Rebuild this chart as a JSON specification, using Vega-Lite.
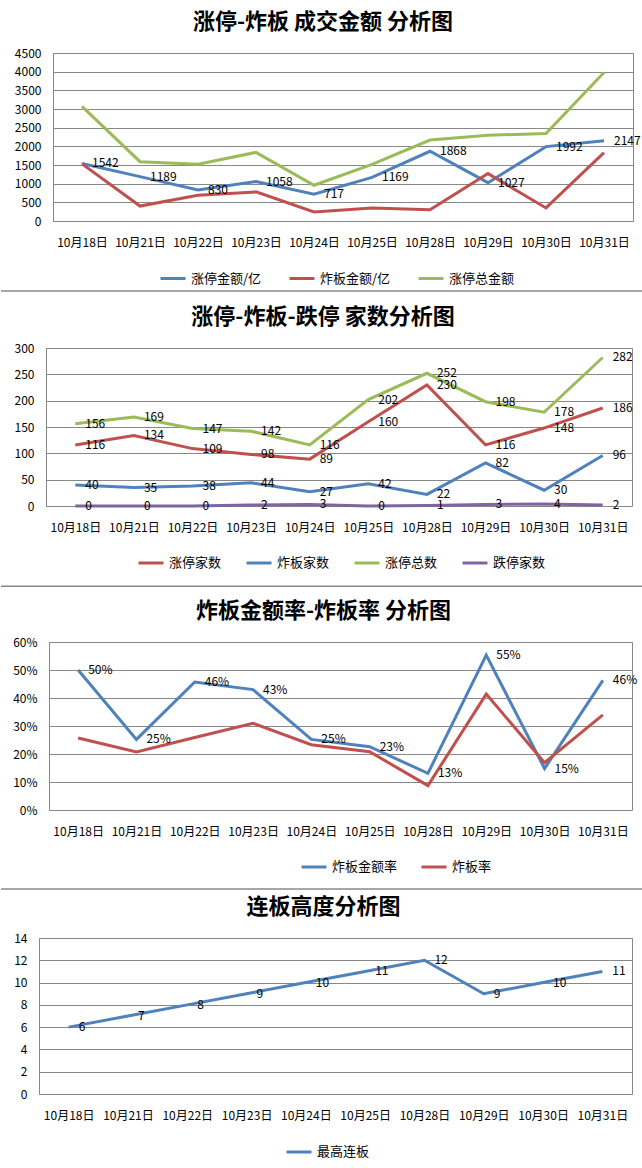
{
  "$schema": "https://vega.github.io/schema/vega-lite/v6.json",
  "background": "white",
  "padding": {"top": 10, "left": 0, "right": 0, "bottom": 0},
  "columns": 1,
  "bounds": "full",
  "spacing": 0,
  "resolve": {"scale": {"color": "independent"}, "legend": {"color": "independent"}},
  "datasets": {
    "p1": [
      {"date": "10月18日", "series": "涨停金额/亿", "value": 1542},
      {"date": "10月21日", "series": "涨停金额/亿", "value": 1189},
      {"date": "10月22日", "series": "涨停金额/亿", "value": 830},
      {"date": "10月23日", "series": "涨停金额/亿", "value": 1058},
      {"date": "10月24日", "series": "涨停金额/亿", "value": 717},
      {"date": "10月25日", "series": "涨停金额/亿", "value": 1169},
      {"date": "10月28日", "series": "涨停金额/亿", "value": 1868},
      {"date": "10月29日", "series": "涨停金额/亿", "value": 1027},
      {"date": "10月30日", "series": "涨停金额/亿", "value": 1992},
      {"date": "10月31日", "series": "涨停金额/亿", "value": 2147},
      {"date": "10月18日", "series": "炸板金额/亿", "value": 1530},
      {"date": "10月21日", "series": "炸板金额/亿", "value": 400},
      {"date": "10月22日", "series": "炸板金额/亿", "value": 690},
      {"date": "10月23日", "series": "炸板金额/亿", "value": 780},
      {"date": "10月24日", "series": "炸板金额/亿", "value": 240},
      {"date": "10月25日", "series": "炸板金额/亿", "value": 350},
      {"date": "10月28日", "series": "炸板金额/亿", "value": 300},
      {"date": "10月29日", "series": "炸板金额/亿", "value": 1270},
      {"date": "10月30日", "series": "炸板金额/亿", "value": 350},
      {"date": "10月31日", "series": "炸板金额/亿", "value": 1830},
      {"date": "10月18日", "series": "涨停总金额", "value": 3072},
      {"date": "10月21日", "series": "涨停总金额", "value": 1589},
      {"date": "10月22日", "series": "涨停总金额", "value": 1520},
      {"date": "10月23日", "series": "涨停总金额", "value": 1838},
      {"date": "10月24日", "series": "涨停总金额", "value": 957},
      {"date": "10月25日", "series": "涨停总金额", "value": 1519},
      {"date": "10月28日", "series": "涨停总金额", "value": 2168},
      {"date": "10月29日", "series": "涨停总金额", "value": 2297},
      {"date": "10月30日", "series": "涨停总金额", "value": 2342},
      {"date": "10月31日", "series": "涨停总金额", "value": 3977}
    ],
    "p2": [
      {"date": "10月18日", "series": "涨停家数", "value": 116},
      {"date": "10月21日", "series": "涨停家数", "value": 134},
      {"date": "10月22日", "series": "涨停家数", "value": 109},
      {"date": "10月23日", "series": "涨停家数", "value": 98},
      {"date": "10月24日", "series": "涨停家数", "value": 89},
      {"date": "10月25日", "series": "涨停家数", "value": 160},
      {"date": "10月28日", "series": "涨停家数", "value": 230},
      {"date": "10月29日", "series": "涨停家数", "value": 116},
      {"date": "10月30日", "series": "涨停家数", "value": 148},
      {"date": "10月31日", "series": "涨停家数", "value": 186},
      {"date": "10月18日", "series": "炸板家数", "value": 40},
      {"date": "10月21日", "series": "炸板家数", "value": 35},
      {"date": "10月22日", "series": "炸板家数", "value": 38},
      {"date": "10月23日", "series": "炸板家数", "value": 44},
      {"date": "10月24日", "series": "炸板家数", "value": 27},
      {"date": "10月25日", "series": "炸板家数", "value": 42},
      {"date": "10月28日", "series": "炸板家数", "value": 22},
      {"date": "10月29日", "series": "炸板家数", "value": 82},
      {"date": "10月30日", "series": "炸板家数", "value": 30},
      {"date": "10月31日", "series": "炸板家数", "value": 96},
      {"date": "10月18日", "series": "涨停总数", "value": 156},
      {"date": "10月21日", "series": "涨停总数", "value": 169},
      {"date": "10月22日", "series": "涨停总数", "value": 147},
      {"date": "10月23日", "series": "涨停总数", "value": 142},
      {"date": "10月24日", "series": "涨停总数", "value": 116},
      {"date": "10月25日", "series": "涨停总数", "value": 202},
      {"date": "10月28日", "series": "涨停总数", "value": 252},
      {"date": "10月29日", "series": "涨停总数", "value": 198},
      {"date": "10月30日", "series": "涨停总数", "value": 178},
      {"date": "10月31日", "series": "涨停总数", "value": 282},
      {"date": "10月18日", "series": "跌停家数", "value": 0},
      {"date": "10月21日", "series": "跌停家数", "value": 0},
      {"date": "10月22日", "series": "跌停家数", "value": 0},
      {"date": "10月23日", "series": "跌停家数", "value": 2},
      {"date": "10月24日", "series": "跌停家数", "value": 3},
      {"date": "10月25日", "series": "跌停家数", "value": 0},
      {"date": "10月28日", "series": "跌停家数", "value": 1},
      {"date": "10月29日", "series": "跌停家数", "value": 3},
      {"date": "10月30日", "series": "跌停家数", "value": 4},
      {"date": "10月31日", "series": "跌停家数", "value": 2}
    ],
    "p3": [
      {"date": "10月18日", "series": "炸板金额率", "value": 0.50},
      {"date": "10月21日", "series": "炸板金额率", "value": 0.252},
      {"date": "10月22日", "series": "炸板金额率", "value": 0.457},
      {"date": "10月23日", "series": "炸板金额率", "value": 0.43},
      {"date": "10月24日", "series": "炸板金额率", "value": 0.252},
      {"date": "10月25日", "series": "炸板金额率", "value": 0.226},
      {"date": "10月28日", "series": "炸板金额率", "value": 0.131},
      {"date": "10月29日", "series": "炸板金额率", "value": 0.553},
      {"date": "10月30日", "series": "炸板金额率", "value": 0.148},
      {"date": "10月31日", "series": "炸板金额率", "value": 0.463},
      {"date": "10月18日", "series": "炸板率", "value": 0.257},
      {"date": "10月21日", "series": "炸板率", "value": 0.207},
      {"date": "10月22日", "series": "炸板率", "value": 0.259},
      {"date": "10月23日", "series": "炸板率", "value": 0.31},
      {"date": "10月24日", "series": "炸板率", "value": 0.233},
      {"date": "10月25日", "series": "炸板率", "value": 0.208},
      {"date": "10月28日", "series": "炸板率", "value": 0.087},
      {"date": "10月29日", "series": "炸板率", "value": 0.414},
      {"date": "10月30日", "series": "炸板率", "value": 0.169},
      {"date": "10月31日", "series": "炸板率", "value": 0.34}
    ],
    "p4": [
      {"date": "10月18日", "series": "最高连板", "value": 6},
      {"date": "10月21日", "series": "最高连板", "value": 7},
      {"date": "10月22日", "series": "最高连板", "value": 8},
      {"date": "10月23日", "series": "最高连板", "value": 9},
      {"date": "10月24日", "series": "最高连板", "value": 10},
      {"date": "10月25日", "series": "最高连板", "value": 11},
      {"date": "10月28日", "series": "最高连板", "value": 12},
      {"date": "10月29日", "series": "最高连板", "value": 9},
      {"date": "10月30日", "series": "最高连板", "value": 10},
      {"date": "10月31日", "series": "最高连板", "value": 11}
    ]
  },
  "concat": [
    {
      "hconcat": [
        {"width": 11, "height": 1, "data": {"values": [{}]}, "view": {"stroke": null}, "mark": {"type": "point", "opacity": 0}},
        {
          "width": 580, "height": 168,
          "title": {"text": "涨停-炸板 成交金额 分析图", "dx": -20},
          "data": {"name": "p1"},
          "encoding": {
            "x": {"field": "date", "type": "ordinal", "sort": ["10月18日","10月21日","10月22日","10月23日","10月24日","10月25日","10月28日","10月29日","10月30日","10月31日"], "scale": {"type": "band", "paddingInner": 0, "paddingOuter": 0}, "axis": {"title": null, "labelAngle": 0, "tickBand": "extent", "ticks": false, "domain": false, "labelPadding": 16}},
            "y": {"field": "value", "type": "quantitative", "scale": {"domain": [0, 4500], "nice": false}, "axis": {"title": null, "values": [0,500,1000,1500,2000,2500,3000,3500,4000,4500], "format": "d", "minExtent": 40, "maxExtent": 40, "ticks": false, "domain": false, "labelPadding": 12}}
          },
          "layer": [
            {"mark": {"type": "line", "strokeWidth": 3},
             "encoding": {"color": {"field": "series", "type": "nominal", "sort": ["涨停金额/亿","炸板金额/亿","涨停总金额"], "scale": {"domain": ["涨停金额/亿","炸板金额/亿","涨停总金额"], "range": ["#4F81BD","#C0504D","#9BBB59"]}, "legend": {"orient": "none", "legendX": 106, "legendY": 211.5, "direction": "horizontal", "title": null, "columnPadding": 21}}}},
            {"transform": [{"filter": "datum.series === '涨停金额/亿'"}],
             "mark": {"type": "text", "align": "left", "dx": 10, "baseline": "middle", "fontSize": 12, "color": "#000"},
             "encoding": {"text": {"field": "value", "type": "quantitative"}}}
          ]
        }
      ],
      "spacing": 0,
      "bounds": "full",
      "resolve": {"scale": {"color": "independent"}, "legend": {"color": "independent"}}
    },
    {
      "width": 642, "height": 18.9, "data": {"values": [{}]}, "view": {"stroke": null},
      "mark": {"type": "rule", "color": "#888", "strokeWidth": 1.5},
      "encoding": {"x": {"datum": 0, "type": "quantitative", "scale": {"domain": [0, 1]}, "axis": null}, "x2": {"datum": 1}, "y": {"datum": 13.8, "type": "quantitative", "scale": {"domain": [0, 18.9], "nice": false, "zero": false}, "axis": null}}
    },
    {
      "hconcat": [
        {"width": 10, "height": 1, "data": {"values": [{}]}, "view": {"stroke": null}, "mark": {"type": "point", "opacity": 0}},
        {
          "width": 586, "height": 158,
          "title": {"text": "涨停-炸板-跌停 家数分析图", "dx": -16},
          "data": {"name": "p2"},
          "encoding": {
            "x": {"field": "date", "type": "ordinal", "sort": ["10月18日","10月21日","10月22日","10月23日","10月24日","10月25日","10月28日","10月29日","10月30日","10月31日"], "scale": {"type": "band", "paddingInner": 0, "paddingOuter": 0}, "axis": {"title": null, "labelAngle": 0, "tickBand": "extent", "ticks": false, "domain": false, "labelPadding": 16}},
            "y": {"field": "value", "type": "quantitative", "scale": {"domain": [0, 300], "nice": false}, "axis": {"title": null, "values": [0,50,100,150,200,250,300], "format": "d", "minExtent": 34, "maxExtent": 34, "ticks": false, "domain": false, "labelPadding": 12}}
          },
          "layer": [
            {"mark": {"type": "line", "strokeWidth": 3},
             "encoding": {"color": {"field": "series", "type": "nominal", "sort": ["涨停家数","炸板家数","涨停总数","跌停家数"], "scale": {"domain": ["涨停家数","炸板家数","涨停总数","跌停家数"], "range": ["#C0504D","#4F81BD","#9BBB59","#8064A2"]}, "legend": {"orient": "none", "legendX": 91, "legendY": 201, "direction": "horizontal", "title": null, "columnPadding": 18}}}},
            {"mark": {"type": "text", "align": "left", "dx": 10, "baseline": "middle", "fontSize": 12, "color": "#000"},
             "encoding": {"text": {"field": "value", "type": "quantitative"}}}
          ]
        }
      ],
      "spacing": 0,
      "bounds": "full",
      "resolve": {"scale": {"color": "independent"}, "legend": {"color": "independent"}}
    },
    {
      "width": 642, "height": 27.1, "data": {"values": [{}]}, "view": {"stroke": null},
      "mark": {"type": "rule", "color": "#888", "strokeWidth": 1.5},
      "encoding": {"x": {"datum": 0, "type": "quantitative", "scale": {"domain": [0, 1]}, "axis": null}, "x2": {"datum": 1}, "y": {"datum": 11.8, "type": "quantitative", "scale": {"domain": [0, 27.1], "nice": false, "zero": false}, "axis": null}}
    },
    {
      "hconcat": [
        {"width": 10, "height": 1, "data": {"values": [{}]}, "view": {"stroke": null}, "mark": {"type": "point", "opacity": 0}},
        {
          "width": 583, "height": 168,
          "title": {"text": "炸板金额率-炸板率 分析图", "dx": -17},
          "data": {"name": "p3"},
          "encoding": {
            "x": {"field": "date", "type": "ordinal", "sort": ["10月18日","10月21日","10月22日","10月23日","10月24日","10月25日","10月28日","10月29日","10月30日","10月31日"], "scale": {"type": "band", "paddingInner": 0, "paddingOuter": 0}, "axis": {"title": null, "labelAngle": 0, "tickBand": "extent", "ticks": false, "domain": false, "labelPadding": 16}},
            "y": {"field": "value", "type": "quantitative", "scale": {"domain": [0, 0.6], "nice": false}, "axis": {"title": null, "values": [0,0.1,0.2,0.3,0.4,0.5,0.6], "format": ".0%", "minExtent": 37, "maxExtent": 37, "ticks": false, "domain": false, "labelPadding": 12}}
          },
          "layer": [
            {"mark": {"type": "line", "strokeWidth": 3},
             "encoding": {"color": {"field": "series", "type": "nominal", "sort": ["炸板金额率","炸板率"], "scale": {"domain": ["炸板金额率","炸板率"], "range": ["#4F81BD","#C0504D"]}, "legend": {"orient": "none", "legendX": 251, "legendY": 211, "direction": "horizontal", "title": null, "columnPadding": 17}}}},
            {"transform": [{"filter": "datum.series === '炸板金额率'"}],
             "mark": {"type": "text", "align": "left", "dx": 10, "baseline": "middle", "fontSize": 12, "color": "#000"},
             "encoding": {"text": {"field": "value", "type": "quantitative", "format": ".0%"}}}
          ]
        }
      ],
      "spacing": 0,
      "bounds": "full",
      "resolve": {"scale": {"color": "independent"}, "legend": {"color": "independent"}}
    },
    {
      "width": 642, "height": 19.3, "data": {"values": [{}]}, "view": {"stroke": null},
      "mark": {"type": "rule", "color": "#888", "strokeWidth": 1.5},
      "encoding": {"x": {"datum": 0, "type": "quantitative", "scale": {"domain": [0, 1]}, "axis": null}, "x2": {"datum": 1}, "y": {"datum": 5.3, "type": "quantitative", "scale": {"domain": [0, 19.3], "nice": false, "zero": false}, "axis": null}}
    },
    {
      "hconcat": [
        {"width": 10, "height": 1, "data": {"values": [{}]}, "view": {"stroke": null}, "mark": {"type": "point", "opacity": 0}},
        {
          "width": 593, "height": 156,
          "title": {"text": "连板高度分析图", "dx": -12},
          "data": {"name": "p4"},
          "encoding": {
            "x": {"field": "date", "type": "ordinal", "sort": ["10月18日","10月21日","10月22日","10月23日","10月24日","10月25日","10月28日","10月29日","10月30日","10月31日"], "scale": {"type": "band", "paddingInner": 0, "paddingOuter": 0}, "axis": {"title": null, "labelAngle": 0, "tickBand": "extent", "ticks": false, "domain": false, "labelPadding": 16}},
            "y": {"field": "value", "type": "quantitative", "scale": {"domain": [0, 14], "nice": false}, "axis": {"title": null, "values": [0,2,4,6,8,10,12,14], "format": "d", "minExtent": 27, "maxExtent": 27, "ticks": false, "domain": false, "labelPadding": 12}}
          },
          "layer": [
            {"mark": {"type": "line", "strokeWidth": 3},
             "encoding": {"color": {"field": "series", "type": "nominal", "scale": {"domain": ["最高连板"], "range": ["#4F81BD"]}, "legend": {"orient": "none", "legendX": 246, "legendY": 200, "direction": "horizontal", "title": null}}}},
            {"mark": {"type": "text", "align": "left", "dx": 10, "baseline": "middle", "fontSize": 12, "color": "#000"},
             "encoding": {"text": {"field": "value", "type": "quantitative"}}}
          ]
        }
      ],
      "spacing": 0,
      "bounds": "full",
      "resolve": {"scale": {"color": "independent"}, "legend": {"color": "independent"}}
    }
  ],
  "config": {
    "font": "Noto Sans CJK SC",
    "view": {"stroke": "#888", "strokeWidth": 1},
    "title": {"fontSize": 22, "fontWeight": "bold", "font": "Noto Sans CJK SC", "color": "#000", "anchor": "middle", "frame": "group", "offset": 13.5},
    "axis": {"gridColor": "#888", "gridOpacity": 1, "gridWidth": 1, "labelFont": "Noto Sans CJK SC", "labelFontSize": 12, "labelColor": "#000"},
    "legend": {"symbolType": "stroke", "symbolSize": 625, "symbolStrokeWidth": 3, "labelFont": "Noto Sans CJK SC", "labelFontSize": 13, "labelColor": "#000", "columnPadding": 20, "padding": 0, "labelOffset": 4}
  }
}
